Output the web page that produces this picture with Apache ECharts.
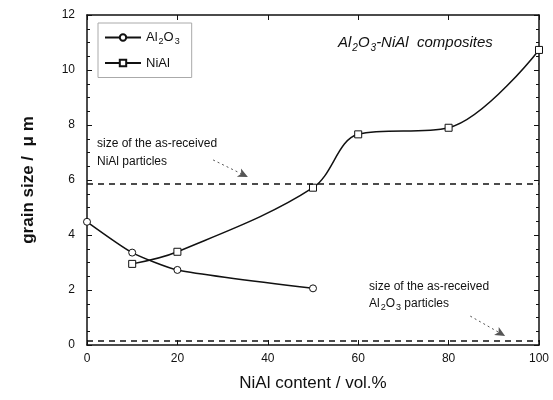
<!DOCTYPE html>
<html>
<head>
<meta charset="utf-8">
<script src="https://cdn.jsdelivr.net/npm/echarts@6/dist/echarts.min.js"></script>
<style>
html, body { margin: 0; padding: 0; background: #fff; }
#chart { width: 553px; height: 400px; }
</style>
</head>
<body>
<div id="chart"></div>
<script>
// values
const al2o3X = [0, 10, 20, 50]
const al2o3Y = [4.48, 3.36, 2.73, 2.06]
const nialX = [10, 20, 50, 60, 80, 100]
const nialY = [2.95, 3.39, 5.72, 7.66, 7.9, 10.73]
const nialPowder = 5.87
const al2o3Powder = 0.15
const xTicks = [0, 20, 40, 60, 80, 100]

const font = 'Liberation Sans, Arial, sans-serif'
const ink = '#111'

const pairs = (xs, ys) => xs.map((x, i) => [x, ys[i]])

const sub = {
    b: { fontFamily: font, fontSize: 13, color: ink },
    s: { fontFamily: font, fontSize: 9, color: ink, padding: [9, 0, 0, 1] }
}
const subIt = {
    b: { fontFamily: font, fontSize: 15, fontStyle: 'italic', fontWeight: 'normal', color: ink },
    s: { fontFamily: font, fontSize: 10, fontStyle: 'italic', fontWeight: 'normal', color: ink, padding: [10, 0, 0, 1] }
}

const frame = { onZero: false, lineStyle: { color: ink, width: 1.5 } }
const tick = { inside: true, length: 5, lineStyle: { color: ink } }

const option = {
    backgroundColor: '#fff',
    animation: false,
    grid: { left: 87, right: 14, top: 15, bottom: 55 },
    title: {
        text: '{b|Al}{s|2}{b|O}{s|3}{b|-NiAl  composites}',
        left: 333, top: 28,
        textStyle: { fontWeight: 'normal', rich: subIt }
    },
    legend: {
        left: 98, top: 23, orient: 'vertical',
        itemWidth: 36, itemHeight: 8, itemGap: 10,
        padding: [8, 12, 8, 6],
        borderColor: '#aaa', borderWidth: 1,
        data: ['Al2O3', 'NiAl'],
        formatter: n => n === 'Al2O3' ? '{b|Al}{s|2}{b|O}{s|3}' : '{b|NiAl}',
        textStyle: { rich: sub }
    },
    xAxis: [{
        type: 'value', min: 0, max: 100, interval: 20,
        name: 'NiAl content / vol.%', nameLocation: 'middle', nameGap: 30,
        nameTextStyle: { fontFamily: font, fontSize: 17, color: ink },
        axisLine: frame, axisTick: tick,
        axisLabel: { fontFamily: font, fontSize: 12, color: ink, margin: 8,
            formatter: v => xTicks.includes(v) ? String(v) : '' },
        splitLine: { show: false }
    }, {
        type: 'value', min: 0, max: 100, interval: 20, position: 'top',
        axisLine: frame, axisTick: tick,
        axisLabel: { show: false }, splitLine: { show: false }
    }],
    yAxis: [{
        type: 'value', min: 0, max: 12, interval: 2,
        name: 'grain size /  \u03bc m', nameLocation: 'middle', nameGap: 50,
        nameTextStyle: { fontFamily: font, fontSize: 17, fontWeight: 'bold', color: ink },
        axisLine: frame, axisTick: tick,
        minorTick: { show: true, splitNumber: 4, length: 3, lineStyle: { color: ink } },
        axisLabel: { fontFamily: font, fontSize: 12, color: ink, margin: 12 },
        splitLine: { show: false }
    }, {
        type: 'value', min: 0, max: 12, interval: 2, position: 'right',
        axisLine: frame, axisTick: tick,
        minorTick: { show: true, splitNumber: 4, length: 3, lineStyle: { color: ink } },
        axisLabel: { show: false }, splitLine: { show: false }
    }],
    graphic: [
        { type: 'text', left: 97, top: 138, style: { text: 'size of the as-received', font: '12px ' + font, fill: ink } },
        { type: 'text', left: 97, top: 156, style: { text: 'NiAl particles', font: '12px ' + font, fill: ink } },
        { type: 'text', left: 369, top: 281, style: { text: 'size of the as-received', font: '12px ' + font, fill: ink } },
        { type: 'text', left: 369, top: 298, style: {
            rich: { b: { font: '12px ' + font, fill: ink }, s: { font: '9px ' + font, fill: ink, padding: [8, 0, 0, 1] } },
            text: '{b|Al}{s|2}{b|O}{s|3}{b| particles}' } }
    ],
    series: [{
        name: 'Al2O3', type: 'line', smooth: 0.2,
        data: pairs(al2o3X, al2o3Y),
        symbol: 'circle', symbolSize: 7,
        lineStyle: { color: ink, width: 1.5 },
        itemStyle: { color: '#fff', borderColor: ink, borderWidth: 1 },
        markLine: {
            silent: true, symbol: ['none', 'none'], label: { show: false },
            lineStyle: { color: ink, type: [6, 5], width: 1.5 },
            data: [{ yAxis: nialPowder }, { yAxis: al2o3Powder }]
        }
    }, {
        name: 'NiAl', type: 'line', smooth: 0.35,
        data: pairs(nialX, nialY),
        symbol: 'rect', symbolSize: 7,
        lineStyle: { color: ink, width: 1.5 },
        itemStyle: { color: '#fff', borderColor: ink, borderWidth: 1 },
        markLine: {
            silent: true, symbol: ['none', 'arrow'], symbolSize: [7, 10], label: { show: false },
            lineStyle: { color: '#555', type: [2, 3], width: 1 },
            data: [
                [{ coord: [27.9, 6.73] }, { coord: [35.6, 6.11] }],
                [{ coord: [84.8, 1.05] }, { coord: [92.5, 0.33] }]
            ]
        }
    }]
}

const chart = echarts.init(document.getElementById('chart'))
chart.setOption(option)
</script>
</body>
</html>
